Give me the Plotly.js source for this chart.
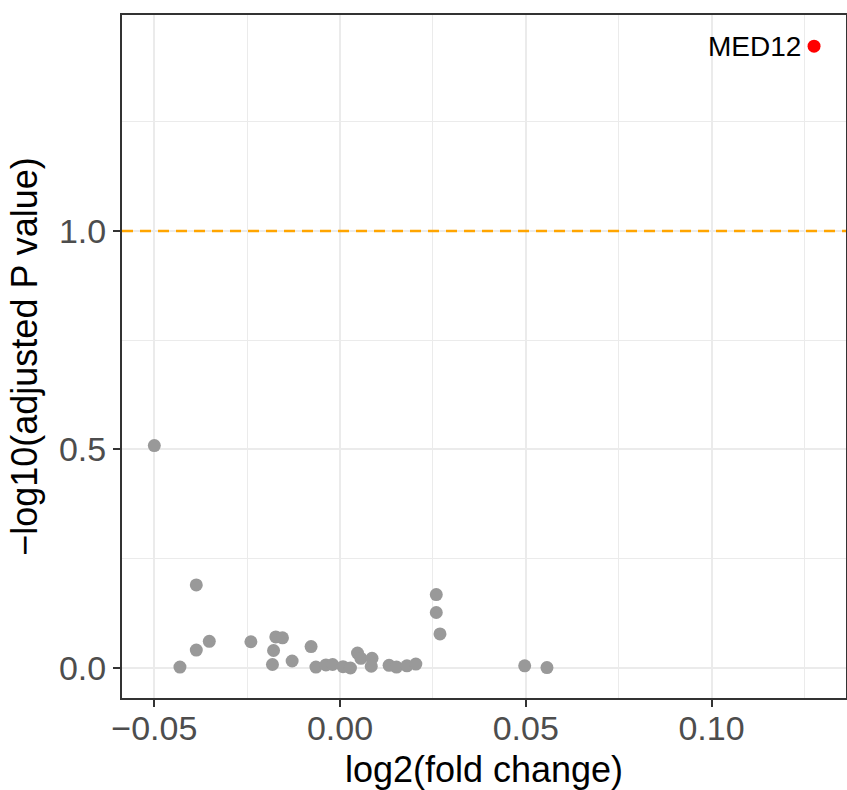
<!DOCTYPE html>
<html>
<head>
<meta charset="utf-8">
<script src="https://cdn.plot.ly/plotly-3.0.1.min.js"></script>
<style>
html,body{margin:0;padding:0;background:#fff;}
#chart{width:847px;height:790px;}
</style>
</head>
<body>
<div id="chart"></div>
<script>
// Non-significant genes
var fcGrey = [-0.0500, -0.0387, -0.0387, -0.0352, -0.0431, -0.0240, -0.0173, -0.0155, -0.0179, -0.0182,
              -0.0129, -0.0078, -0.0065, -0.0038, -0.0020, 0.0008, 0.0028, 0.0047, 0.0056, 0.0086,
              0.0084, 0.0132, 0.0152, 0.0180, 0.0204, 0.0259, 0.0259, 0.0269, 0.0497, 0.0557];
var pGrey  = [0.509, 0.190, 0.041, 0.061, 0.002, 0.060, 0.071, 0.069, 0.040, 0.008,
              0.016, 0.049, 0.002, 0.007, 0.008, 0.003, 0.000, 0.034, 0.022, 0.022,
              0.004, 0.006, 0.002, 0.005, 0.009, 0.168, 0.127, 0.078, 0.005, 0.001];
// Significant gene
var sigGenes = ["MED12"];
var fcSig = [0.1276];
var pSig  = [1.423];
// Threshold
var threshold = 1.0;
var xTicks = [-0.05, 0.00, 0.05, 0.10];
var xTickText = ["\u22120.05", "0.00", "0.05", "0.10"];
var yTicks = [0.0, 0.5, 1.0];
var yTickText = ["0.0", "0.5", "1.0"];

var font = "Liberation Sans, Arial, Helvetica, sans-serif";

var traces = [
  {x: fcGrey, y: pGrey, mode: "markers", type: "scatter",
   marker: {color: "#999999", size: 13}, hoverinfo: "skip", showlegend: false},
  {x: fcSig, y: pSig, mode: "markers", type: "scatter", text: sigGenes,
   marker: {color: "#FF0000", size: 13}, showlegend: false}
];

var annotations = sigGenes.map(function(g, i){
  return {x: fcSig[i], y: pSig[i], xref: "x", yref: "y", text: g, showarrow: false,
          xanchor: "right", yanchor: "middle", xshift: -11,
          font: {family: font, size: 28, color: "#000000"}};
});

var axisCommon = {
  showline: true, mirror: true, linecolor: "#333333", linewidth: 2,
  ticks: "outside", ticklen: 7, tickwidth: 2, tickcolor: "#333333",
  showgrid: true, gridcolor: "#EBEBEB", gridwidth: 2,
  zeroline: false,
  tickfont: {family: font, size: 34, color: "#4D4D4D"}
};

var layout = {
  width: 847, height: 790,
  margin: {l: 122, r: 1, t: 15, b: 92},
  paper_bgcolor: "#ffffff", plot_bgcolor: "#ffffff",
  xaxis: Object.assign({}, axisCommon, {
    range: [-0.0587, 0.1362],
    tickmode: "array", tickvals: xTicks, ticktext: xTickText,
    ticklabelstandoff: -8,
    minor: {dtick: 0.025, tick0: -0.075, showgrid: true, gridcolor: "#EBEBEB", gridwidth: 1, ticks: ""},
    title: {text: "log2(fold change)", font: {family: font, size: 36, color: "#000000"}, standoff: 14}
  }),
  yaxis: Object.assign({}, axisCommon, {
    range: [-0.0687, 1.4943],
    tickmode: "array", tickvals: yTicks, ticktext: yTickText,
    minor: {dtick: 0.25, tick0: 0, showgrid: true, gridcolor: "#EBEBEB", gridwidth: 1, ticks: ""},
    title: {text: "\u2212log10(adjusted P value)", font: {family: font, size: 36, color: "#000000"}, standoff: 10}
  }),
  shapes: [{type: "line", xref: "paper", x0: 0, x1: 1, yref: "y", y0: threshold, y1: threshold,
            line: {color: "#FFA500", width: 2.5, dash: "11px,7px"}, layer: "above"}],
  annotations: annotations
};

Plotly.newPlot("chart", traces, layout, {displayModeBar: false, staticPlot: true});
</script>
</body>
</html>
